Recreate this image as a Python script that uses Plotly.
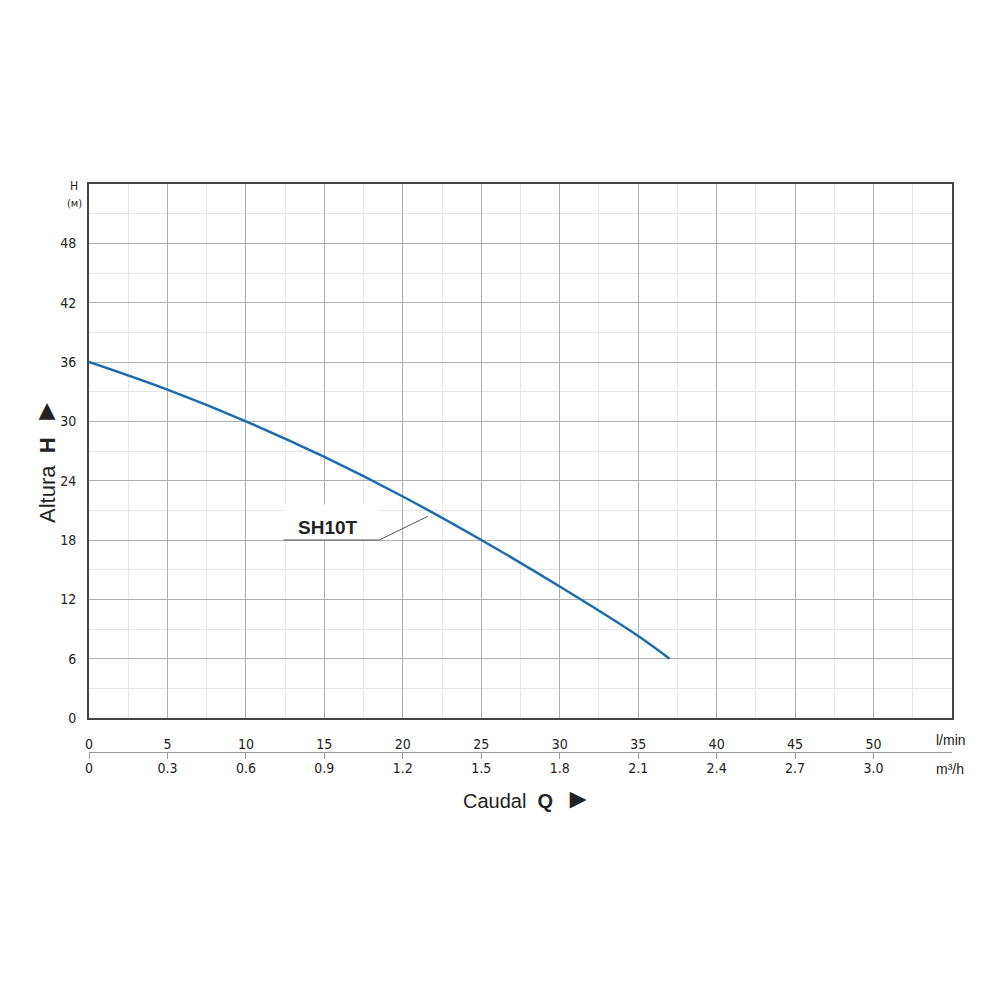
import plotly.graph_objects as go

# Data
flow_lmin = [0, 5, 10, 15, 20, 25, 30, 35, 37]
head_m = [36, 33.2, 30, 26.4, 22.4, 18, 13.3, 8.3, 6]

x_ticks = [0, 5, 10, 15, 20, 25, 30, 35, 40, 45, 50]
x_ticks_m3h = ["0", "0.3", "0.6", "0.9", "1.2", "1.5", "1.8", "2.1", "2.4", "2.7", "3.0"]
y_ticks = [0, 6, 12, 18, 24, 30, 36, 42, 48]
series_name = "SH10T"

FONT = "Liberation Sans Narrow, DejaVu Sans Condensed, Arial, sans-serif"
SANS = "Liberation Sans, Arial, sans-serif"

OFF = 8  # page body margin
L, R = 89, 952
H_TOP = 184
H_BOT = 770
plot_h = H_BOT - H_TOP
y_dom0 = (H_BOT - 718) / plot_h
x2_pos = (H_BOT - 752) / plot_h


def px_to_paper(xp, yp):
    return (xp - L) / (R - L), (H_BOT - yp) / plot_h


fig = go.Figure()
fig.add_trace(go.Scatter(
    x=flow_lmin, y=head_m, mode="lines", line=dict(color="#1a6cae", width=2.5, shape="spline"),
    showlegend=False, hoverinfo="skip"))
fig.add_trace(go.Scatter(x=[0], y=[0], xaxis="x2", yaxis="y", mode="markers",
                         marker=dict(opacity=0), showlegend=False, hoverinfo="skip"))

fig.update_layout(
    width=1000, height=1000,
    margin=dict(l=L - OFF, r=1000 - (R - OFF), t=H_TOP - OFF, b=1000 - (H_BOT - OFF), autoexpand=False),
    paper_bgcolor="white", plot_bgcolor="white",
    font=dict(family=FONT, size=14, color="#222"),
    xaxis=dict(range=[0, 55], tickvals=x_ticks, showgrid=True, gridcolor="#b0b0b0", gridwidth=1,
               minor=dict(dtick=2.5, showgrid=True, gridcolor="#e6e6e6", gridwidth=1),
               showline=True, linecolor="#444", linewidth=2, mirror=True, ticks="",
               zeroline=False, anchor="y", ticklabelstandoff=12,
               tickfont=dict(family=FONT, size=14, color="#222")),
    xaxis2=dict(range=[0, 55], tickvals=x_ticks, ticktext=x_ticks_m3h, overlaying="x",
                anchor="free", position=x2_pos, side="bottom", showgrid=False, zeroline=False,
                showline=True, linecolor="#999", linewidth=1, ticks="outside", ticklen=6,
                tickcolor="#999", ticklabelstandoff=-3,
                tickfont=dict(family=FONT, size=14, color="#222")),
    yaxis=dict(range=[0, 54], domain=[y_dom0, 1], tickvals=y_ticks, showgrid=True,
               gridcolor="#b0b0b0", gridwidth=1,
               minor=dict(dtick=3, showgrid=True, gridcolor="#e6e6e6", gridwidth=1),
               showline=True, linecolor="#444", linewidth=2, mirror=True, ticks="",
               zeroline=False, ticklabelstandoff=8,
               tickfont=dict(family=FONT, size=14, color="#222")),
)

# SH10T label with leader line
fig.add_shape(type="rect", x0=12.4, x1=18.5, y0=18, y1=21.6, xref="x", yref="y",
              fillcolor="white", line=dict(width=0), layer="above")
fig.add_shape(type="line", x0=12.4, x1=18.5, y0=18, y1=18, xref="x", yref="y",
              line=dict(color="#555", width=1), layer="above")
fig.add_shape(type="line", x0=18.5, x1=21.6, y0=18, y1=20.4, xref="x", yref="y",
              line=dict(color="#555", width=1), layer="above")
fig.add_annotation(x=15.2, y=19.3, xref="x", yref="y", text="<b>" + series_name + "</b>",
                   showarrow=False, font=dict(family=SANS, size=19, color="#222"))

# Unit annotations
annots = [
    dict(text="H", x=74, y=186, size=12, fam=FONT),
    dict(text="(м)", x=74, y=204, size=11, fam=FONT),
    dict(text="l/min", x=951, y=740, size=14, fam=SANS),
    dict(text="m³/h", x=950, y=769, size=14, fam=SANS),
]
for a in annots:
    px, py = px_to_paper(a["x"], a["y"])
    fig.add_annotation(x=px, y=py, xref="paper", yref="paper", xanchor="center", yanchor="middle",
                       text=a["text"], showarrow=False,
                       font=dict(family=a["fam"], size=a["size"], color="#222"))

# Axis titles (rotated ► points upward)
ax, ay = px_to_paper(45, 460)
fig.add_annotation(x=ax, y=ay, xref="paper", yref="paper", textangle=-90, showarrow=False,
                   xanchor="center", yanchor="middle",
                   text="Altura  <b>H</b>  <span style='font-size:28px'>►</span>",
                   font=dict(family=SANS, size=22, color="#222"))
bx, by = px_to_paper(527, 798)
fig.add_annotation(x=bx, y=by, xref="paper", yref="paper", showarrow=False,
                   xanchor="center", yanchor="middle",
                   text="Caudal  <b>Q</b>  <span style='font-size:28px'>►</span>",
                   font=dict(family=SANS, size=20, color="#222"))

fig.write_html("out.html")
